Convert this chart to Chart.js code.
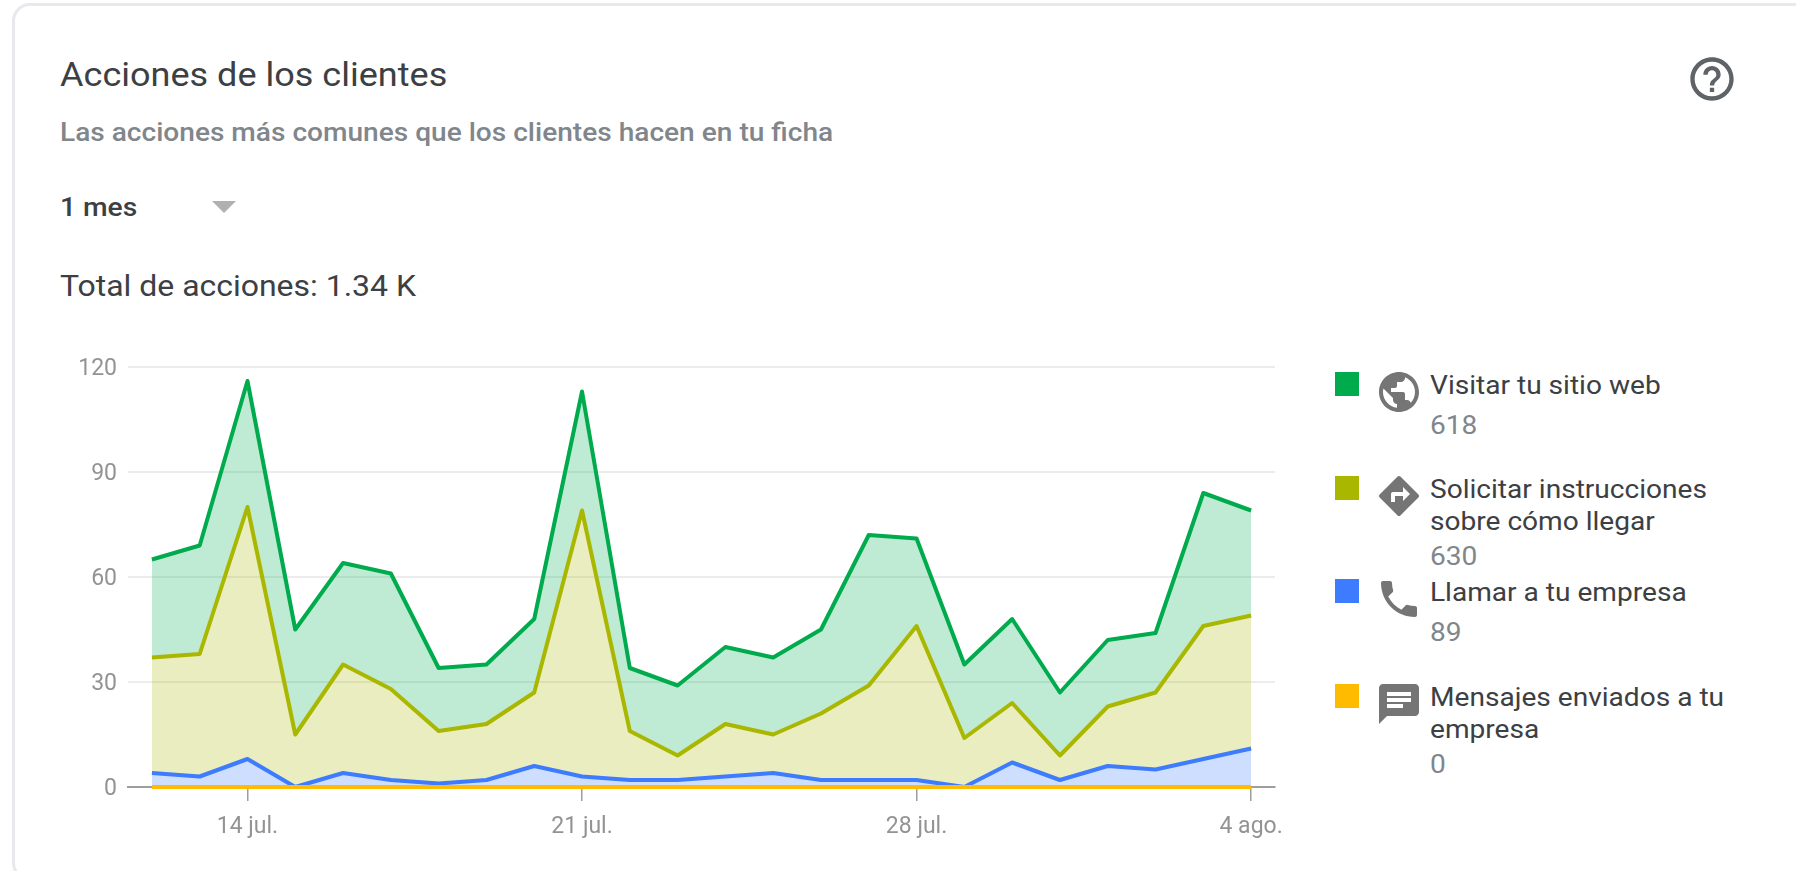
<!DOCTYPE html>
<html lang="es">
<head>
<meta charset="utf-8">
<title>Acciones de los clientes</title>
<script src="https://cdn.jsdelivr.net/npm/chart.js@4"></script>
<style>
	html, body {margin: 0; padding: 0; background: #fff; overflow: hidden;}
	body {width: 1796px; height: 871px; position: relative; font-family: Roboto, sans-serif; filter: blur(0.6px);}
	.card {position: absolute; left: 12px; top: 3px; width: 1900px; height: 878px; box-sizing: border-box; border: 3px solid #e8e9ec; border-radius: 18px;}
	.text {position: absolute; left: 60px; white-space: nowrap; line-height: 1; transform-origin: left center;}
	.title {top: 57px; font-size: 34px; color: #3c4043; transform: scaleX(1.06);}
	.subtitle {top: 119px; font-size: 26px; font-weight: 500; color: #80868b; transform: scaleX(1.08);}
	.period {top: 194px; font-size: 26px; font-weight: 500; color: #3c4043; transform: scaleX(1.085);}
	.total {top: 271px; font-size: 30px; color: #3c4043; transform: scaleX(1.065);}
	.arrow {position: absolute; left: 212px; top: 201px; width: 0; height: 0; border-left: 12px solid transparent; border-right: 12px solid transparent; border-top: 12px solid #b0b0b0;}
	.help {position: absolute; left: 1686px; top: 53px; width: 52px; height: 52px; fill: #5f6368;}
	.chart {position: absolute; left: 0; top: 340px; width: 1300px; height: 530px;}
	.swatch {position: absolute; left: 1335px; width: 24px; height: 24px;}
	.icon {position: absolute; left: 1375px; width: 48px; height: 48px; fill: #757575;}
	.name {position: absolute; left: 1430px; font-size: 26px; line-height: 32px; color: #3c4043; white-space: pre; transform-origin: left center; transform: scaleX(1.08);}
	.value {position: absolute; left: 1430px; font-size: 26px; line-height: 32px; color: #80868b; transform-origin: left center; transform: scaleX(1.08);}
</style>
</head>
<body>
<div class="card"></div>
<div class="text title">Acciones de los clientes</div>
<div class="text subtitle">Las acciones más comunes que los clientes hacen en tu ficha</div>
<div class="text period">1 mes</div>
<div class="arrow"></div>
<div class="text total">Total de acciones: 1.34 K</div>
<svg class="help" viewBox="0 0 24 24"><path d="M11 18h2v-2h-2v2zm1-16C6.48 2 2 6.48 2 12s4.48 10 10 10 10-4.48 10-10S17.52 2 12 2zm0 18c-4.41 0-8-3.59-8-8s3.59-8 8-8 8 3.59 8 8-3.59 8-8 8zm0-14c-2.21 0-4 1.79-4 4h2c0-1.1.9-2 2-2s2 .9 2 2c0 2-3 1.75-3 5h2c0-2.25 3-2.5 3-5 0-2.21-1.79-4-4-4z"/></svg>
<div class="chart"><canvas id="chart"></canvas></div>
<div id="legend"></div>

<script>
var days = ['12 jul.', '13 jul.', '14 jul.', '15 jul.', '16 jul.', '17 jul.', '18 jul.', '19 jul.', '20 jul.', '21 jul.', '22 jul.', '23 jul.',
	'24 jul.', '25 jul.', '26 jul.', '27 jul.', '28 jul.', '29 jul.', '30 jul.', '31 jul.', '1 ago.', '2 ago.', '3 ago.', '4 ago.'];
var dayLabels = ['14 jul.', '21 jul.', '28 jul.', '4 ago.'];
var yTicks = [0, 30, 60, 90, 120];

var websiteValues = [28, 31, 36, 30, 29, 33, 18, 17, 21, 34, 18, 20, 22, 22, 24, 43, 25, 21, 24, 18, 19, 17, 38, 30];
var directionsValues = [33, 35, 72, 15, 31, 26, 15, 16, 21, 76, 14, 7, 15, 11, 19, 27, 44, 14, 17, 7, 17, 22, 38, 38];
var callValues = [4, 3, 8, 0, 4, 2, 1, 2, 6, 3, 2, 2, 3, 4, 2, 2, 2, 0, 7, 2, 6, 5, 8, 11];
var messageValues = [0, 0, 0, 0, 0, 0, 0, 0, 0, 0, 0, 0, 0, 0, 0, 0, 0, 0, 0, 0, 0, 0, 0, 0];

var legendNames = ['Visitar tu sitio web', 'Solicitar instrucciones\nsobre cómo llegar', 'Llamar a tu empresa', 'Mensajes enviados a tu\nempresa'];
var legendValues = ['618', '630', '89', '0'];
var legendColors = ['#00ab4e', '#aab700', '#3d7bff', '#ffbb00'];
var legendIcons =
[
	'M12 2C6.48 2 2 6.48 2 12s4.48 10 10 10 10-4.48 10-10S17.52 2 12 2zm-1 17.93c-3.95-.49-7-3.85-7-7.93 0-.62.08-1.21.21-1.79L9 15v1c0 1.1.9 2 2 2v1.93zm6.9-2.54c-.26-.81-1-1.39-1.9-1.39h-1v-3c0-.55-.45-1-1-1H8v-2h2c.55 0 1-.45 1-1V7h2c1.1 0 2-.9 2-2v-.41c2.93 1.19 5 4.06 5 7.41 0 2.08-.8 3.97-2.1 5.39z',
	'M21.71 11.29l-9-9c-.39-.39-1.02-.39-1.41 0l-9 9c-.39.39-.39 1.02 0 1.41l9 9c.39.39 1.02.39 1.41 0l9-9c.39-.38.39-1.01 0-1.41zM14 14.5V12h-4v3H8v-4c0-.55.45-1 1-1h5V7.5l3.5 3.5-3.5 3.5z',
	'M6.62 10.79c1.44 2.83 3.76 5.14 6.59 6.59l2.2-2.2c.27-.27.67-.36 1.02-.24 1.12.37 2.33.57 3.57.57.55 0 1 .45 1 1V20c0 .55-.45 1-1 1-9.39 0-17-7.61-17-17 0-.55.45-1 1-1h3.5c.55 0 1 .45 1 1 0 1.25.2 2.45.57 3.57.11.35.03.74-.25 1.02l-2.2 2.2z',
	'M20 2H4c-1.1 0-1.99.9-1.99 2L2 22l4-4h14c1.1 0 2-.9 2-2V4c0-1.1-.9-2-2-2zM6 9h12v2H6V9zm8 5H6v-2h8v2zm4-6H6V6h12v2z'
];

// legend rows, tops as measured on the reference
var legendTops = [372, 476, 579, 684];
var legendLines = [1, 2, 1, 2];
var legendHtml = '';

legendNames.forEach(function (name, index)
{
	var top = legendTops[index];
	var nameTop = top - 3;
	var valueTop = nameTop + legendLines[index] * 32 + (legendLines[index] == 1 ? 8 : 3);
	legendHtml += '<div class="swatch" style="top:' + top + 'px;background:' + legendColors[index] + '"></div>';
	legendHtml += '<svg class="icon" viewBox="0 0 24 24" style="top:' + (top - 4) + 'px"><path d="' + legendIcons[index] + '"/></svg>';
	legendHtml += '<div class="name" style="top:' + nameTop + 'px">' + name + '</div>';
	legendHtml += '<div class="value" style="top:' + valueTop + 'px">' + legendValues[index] + '</div>';
});

document.getElementById('legend').innerHTML = legendHtml;

function area(color, alpha)
{
	return 'rgba(' + parseInt(color.substr(1, 2), 16) + ',' + parseInt(color.substr(3, 2), 16) + ',' + parseInt(color.substr(5, 2), 16) + ',' + alpha + ')';
}

function series(label, values, color, fill)
{
	return {
		label: label,
		data: values,
		borderColor: color,
		backgroundColor: area(color, 0.25),
		borderWidth: 4,
		borderJoinStyle: 'round',
		pointRadius: 0,
		tension: 0,
		fill: fill,
		clip: false
	};
}

new Chart(document.getElementById('chart'),
{
	type: 'line',
	data:
	{
		labels: days,
		// first dataset paints last, so the message line stays on top
		datasets:
		[
			series('Mensajes enviados a tu empresa', messageValues, legendColors[3], false),
			series('Llamar a tu empresa', callValues, legendColors[2], 'origin'),
			series('Solicitar instrucciones sobre cómo llegar', directionsValues, legendColors[1], '-1'),
			series('Visitar tu sitio web', websiteValues, legendColors[0], '-1')
		]
	},
	options:
	{
		responsive: true,
		maintainAspectRatio: false,
		animation: false,
		layout: {padding: {top: 27, right: 25}},
		plugins:
		{
			legend: {display: false},
			title: {display: false},
			tooltip: {enabled: false}
		},
		scales:
		{
			x:
			{
				offset: true,
				afterFit: function (axis) {axis.height = 83},
				border: {color: '#9e9e9e', width: 2},
				grid:
				{
					offset: false,
					drawOnChartArea: false,
					color: '#9e9e9e',
					lineWidth: 1.5,
					tickLength: 14
				},
				ticks:
				{
					autoSkip: false,
					maxRotation: 0,
					padding: 12,
					color: '#939393',
					font: {family: 'Roboto', size: 23},
					callback: function (value)
					{
						var label = this.getLabelForValue(value);
						return dayLabels.indexOf(label) != -1 ? label : null;
					}
				}
			},
			y:
			{
				stacked: true,
				min: yTicks[0],
				max: yTicks[yTicks.length - 1],
				afterFit: function (axis) {axis.width = 128},
				border: {display: false},
				grid: {color: '#ececec', lineWidth: 2, drawTicks: false},
				afterBuildTicks: function (axis) {axis.ticks = yTicks.map(function (value) {return {value: value}})},
				ticks:
				{
					padding: 11,
					labelOffset: 2,
					color: '#939393',
					font: {family: 'Roboto', size: 23}
				}
			}
		}
	}
});
</script>
</body>
</html>
